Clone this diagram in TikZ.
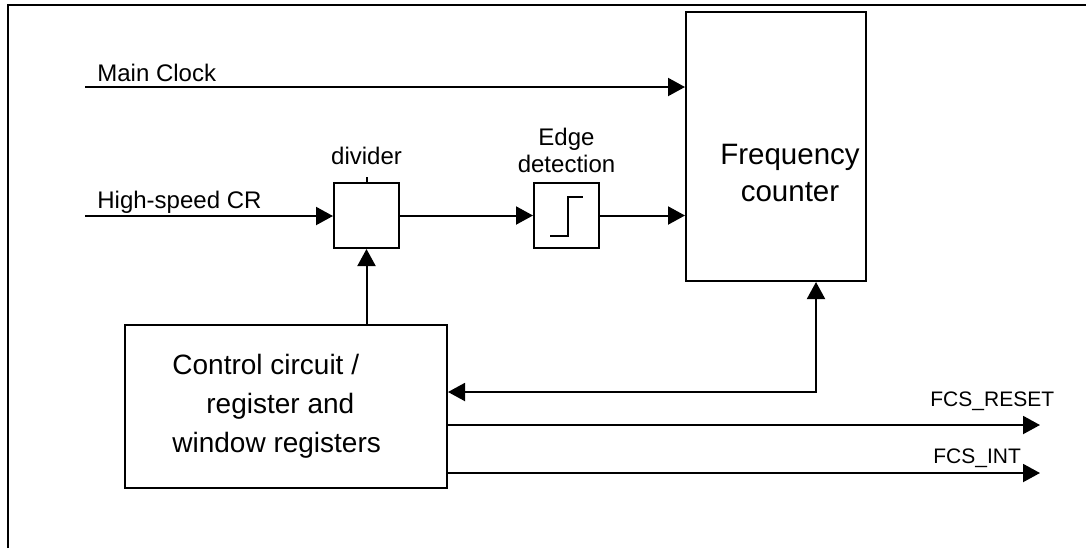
\documentclass[tikz,border=0pt]{standalone}
\usepackage{fontspec}
\setmainfont{Liberation Sans}
\usetikzlibrary{arrows.meta, positioning}

\begin{document}
\begin{tikzpicture}[
  x=0.5pt, y=-0.5pt,
  box/.style={draw, line width=1pt, inner sep=0pt,
              minimum width=32.5pt, minimum height=32.5pt},
  arr/.style={-{Triangle[length=8.5pt, width=9pt]}, line width=1pt},
  biarr/.style={{Triangle[length=8.5pt, width=9pt]}-{Triangle[length=8.5pt, width=9pt]},
                line width=1pt},
  lbl/.style={font=\fontsize{12}{13.5}\selectfont, inner sep=0pt, align=center},
  sig/.style={font=\fontsize{10.5}{12}\selectfont, inner sep=0pt, anchor=base west}
]
  \useasboundingbox (0,0) rectangle (1086,548);
  % outer frame (top and left edges only)
  \draw[line width=1pt] (8,548) -- (8,5) -- (1086,5);

  % blocks
  \node[box, minimum width=90pt, minimum height=134.5pt] (freq) at (776,146.5) {};
  \node[font=\fontsize{14.75}{18.5}\selectfont, align=center, inner sep=0pt]
    (freqtxt) at (790,173) {Frequency\\counter};
  \node[box] (div)  at (366.5,215.5) {};
  \node[box] (edge) at (566.5,215.5) {};
  \node[box, minimum width=161pt, minimum height=81.5pt] (ctrl) at (286,406.5) {};
  \node[font=\fontsize{14}{19.5}\selectfont, align=left, inner sep=0pt, anchor=west]
    (ctrltxt) at (172,406) {Control circuit /\\\hspace{17pt}register and\\window registers};

  \node[lbl, above=8.5pt of div]  (divlbl)  {divider};
  \node[lbl, above=4.5pt of edge] (edgelbl) {Edge\\detection};
  \draw[line width=1pt] (div.north) -- ++(0,-5);
  % step symbol
  \draw[line width=1pt] ([shift={(-16.5,20.5)}]edge.center)
    -- ++(18,0) -- ++(0,-39) -- ++(15,0);

  % inputs
  \coordinate (mcin) at (85,87);
  \coordinate (hsin) at (85,216);
  \node[lbl, anchor=base west] (mclbl) at (97,81)  {Main Clock};
  \node[lbl, anchor=base west] (hslbl) at (97,208) {High-speed CR};
  \draw[arr] (mcin) -- (mcin -| freq.west);
  \draw[arr] (hsin) -- (hsin -| div.west);
  \draw[arr] (div.east) -- (edge.west);
  \draw[arr] (edge.east) -- (edge.east -| freq.west);
  \draw[arr] (div.south |- ctrl.north) -- (div.south);

  % control <-> counter
  \coordinate (fbk) at (816,392);
  \draw[biarr] (ctrl.east |- fbk) -- (fbk) -- (fbk |- freq.south);

  % outputs
  \coordinate (rst)  at (1040,425);
  \coordinate (fint) at (1040,473);
  \draw[arr] (ctrl.east |- rst) -- (rst);
  \draw[arr] (ctrl.east |- fint) -- (fint);
  \node[sig] (rstlbl) at (930,406) {FCS\_RESET};
  \node[sig] (intlbl) at (933,463) {FCS\_INT};
\end{tikzpicture}
\end{document}
